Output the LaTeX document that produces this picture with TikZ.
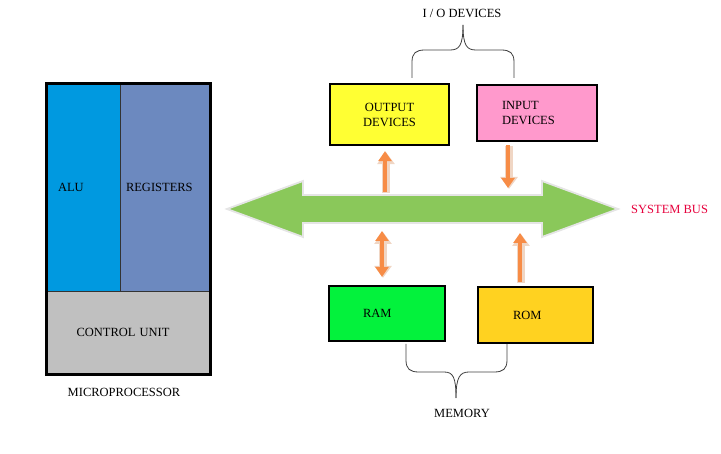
\documentclass[tikz,border=0pt]{standalone}
\usepackage{fontspec}
\setmainfont{Liberation Serif}
\usepackage{xcolor}
\usetikzlibrary{arrows.meta,positioning}
\definecolor{alublue}{RGB}{0,153,224}
\definecolor{regblue}{RGB}{108,137,191}
\definecolor{cugray}{RGB}{192,192,192}
\definecolor{outyellow}{RGB}{255,255,51}
\definecolor{inpink}{RGB}{255,153,204}
\definecolor{ramgreen}{RGB}{3,242,60}
\definecolor{romgold}{RGB}{255,210,32}
\definecolor{busgreen}{RGB}{138,200,90}
\definecolor{linkorange}{RGB}{247,140,70}
\definecolor{linkpale}{RGB}{240,214,196}
\definecolor{buslabel}{RGB}{230,0,60}
\begin{document}
\begin{tikzpicture}[x=1pt,y=-1pt,
  every node/.style={font=\fontsize{12.5}{15}\selectfont},
  part/.style={draw=black!80,line width=0.8pt,inner sep=0pt,align=left},
  dev/.style={draw,line width=2.2pt,inner sep=0pt},
  iolink/.style={draw=linkorange,line width=4.5pt,-{Triangle[width=13pt,length=10pt]},
    preaction={draw=linkpale,line width=7.5pt,-{Triangle[width=17pt,length=12pt]},transform canvas={xshift=1pt,yshift=-1pt}}},
  iolinkboth/.style={draw=linkorange,line width=4.5pt,{Triangle[width=13pt,length=10pt]}-{Triangle[width=13pt,length=10pt]},
    preaction={draw=linkpale,line width=7.5pt,{Triangle[width=17pt,length=12pt]}-{Triangle[width=17pt,length=12pt]},transform canvas={xshift=1pt,yshift=-1pt}}},
  brace/.style={draw=black!75,line width=0.8pt}]
\useasboundingbox (0,0) rectangle (721,454);
\node[part,fill=alublue,minimum width=73,minimum height=207,text width=51] (alu) at (83.5,187.5) {ALU};
\node[part,fill=regblue,minimum width=90,minimum height=207,text width=78] (reg) at (165,187.5) {REGISTERS};
\node[part,fill=cugray,minimum width=163,minimum height=83,text width=104] (cu) at (128.5,332.5) {CONTROL UNIT};
\draw[line width=2.4pt] (alu.north west) rectangle (cu.south east);
\node (cpu) at (124,392) {MICROPROCESSOR};
\node[dev,fill=outyellow,minimum width=119,minimum height=61,align=center] (outp) at (389.5,114.5) {OUTPUT\\DEVICES};
\node[dev,fill=inpink,minimum width=120,minimum height=56,text width=70,align=left] (inp) at (537,113) {INPUT\\DEVICES};
\node[dev,fill=ramgreen,minimum width=116,minimum height=55,text width=48,align=left] (ram) at (387,313.5) {RAM};
\node[dev,fill=romgold,minimum width=115,minimum height=56,text width=45,align=left] (rom) at (535.5,315) {ROM};
\node (io) at (462,13) {I / O DEVICES};
\node (mem) at (462,413) {MEMORY};
\draw[brace] (412,78) -- (412,62) .. controls (412,53) and (416,50) .. (425,50) -- (450,50) .. controls (459,50) and (463,46) .. (463,25);
\draw[brace] (514,78) -- (514,62) .. controls (514,53) and (510,50) .. (501,50) -- (476,50) .. controls (467,50) and (463,46) .. (463,25);
\draw[brace] (406,344) -- (406,360) .. controls (406,369) and (410,372) .. (419,372) -- (444,372) .. controls (453,372) and (456,377) .. (456,398);
\draw[brace] (507,344) -- (507,360) .. controls (507,369) and (503,372) .. (494,372) -- (469,372) .. controls (460,372) and (456,377) .. (456,398);
\draw[fill=busgreen,draw=black!10,line width=1.8pt,line join=miter]
  (227,209) -- (303,181) -- (303,195) -- (542,195) -- (542,181) -- (618,209)
  -- (542,237) -- (542,223) -- (303,223) -- (303,237) -- cycle;
\node[text=buslabel,anchor=west,inner sep=0pt] (bus) at (631,209) {SYSTEM BUS};
\coordinate (p1) at (385,192);
\coordinate (p2) at (508,188);
\coordinate (p3) at (382,231);
\coordinate (p4) at (520,233);
\draw[iolink,shorten >=5pt] (p1) -- (p1 |- outp.south);
\draw[iolink,shorten <=3pt] (p2 |- inp.south) -- (p2);
\draw[iolinkboth,shorten >=8pt] (p3) -- (p3 |- ram.north);
\draw[iolink,shorten <=4pt] (p4 |- rom.north) -- (p4);
\end{tikzpicture}
\end{document}
